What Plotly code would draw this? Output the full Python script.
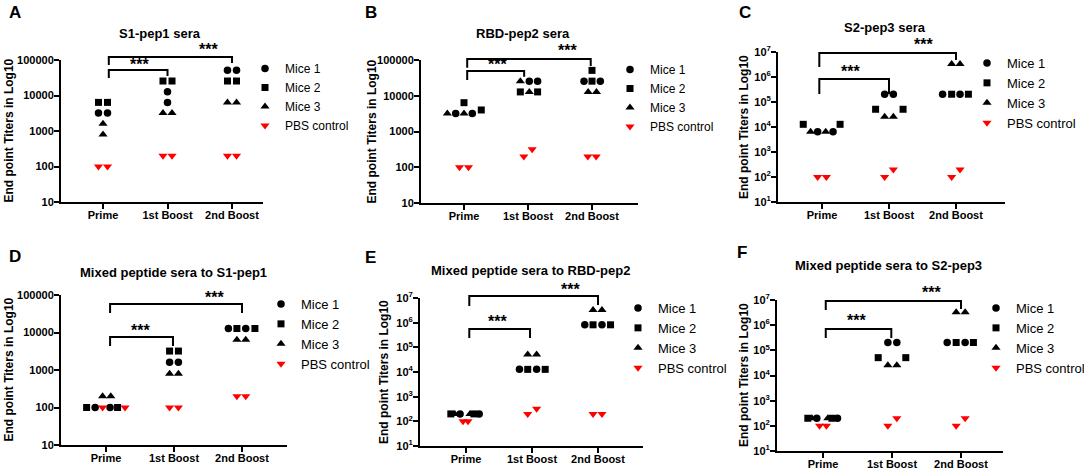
import plotly.graph_objects as go

W, H = 1084, 470
FONT = "Liberation Sans, Arial, sans-serif"

CATEGORIES = ["Prime", "1st Boost", "2nd Boost"]
SERIES_NAMES = ["Mice 1", "Mice 2", "Mice 3", "PBS control"]

# ---------------- data (titers per group, two readings per group) ----------------
A_mice1 = [[3200, 3200], [12800, 6400], [51200, 51200]]
A_mice2 = [[6400, 6400], [25600, 25600], [25600, 25600]]
A_mice3 = [[1600, 800], [3200, 3200], [6400, 6400]]
A_pbs = [[100, 100], [200, 200], [200, 200]]

B_mice1 = [[3200, 3200], [25600, 25600], [25600, 25600]]
B_mice2 = [[6400, 4000], [12800, 12800], [51200, 25600]]
B_mice3 = [[3200, 3200], [25600, 12800], [12800, 12800]]
B_pbs = [[100, 100], [200, 320], [200, 200]]

C_mice1 = [[6400, 6400], [204800, 204800], [204800, 204800]]
C_mice2 = [[12800, 12800], [51200, 51200], [204800, 204800]]
C_mice3 = [[6400, 6400], [25600, 25600], [3276800, 3276800]]
C_pbs = [[100, 100], [100, 200], [100, 200]]

D_mice1 = [[100, 100], [1600, 1600], [12800, 12800]]
D_mice2 = [[100, 100], [3200, 3200], [12800, 12800]]
D_mice3 = [[200, 200], [800, 800], [6400, 6400]]
D_pbs = [[100, 100], [100, 100], [200, 200]]

E_mice1 = [[200, 200], [12800, 12800], [819200, 819200]]
E_mice2 = [[200, 200], [12800, 12800], [819200, 819200]]
E_mice3 = [[200, 200], [51200, 51200], [3276800, 3276800]]
E_pbs = [[100, 100], [200, 320], [200, 200]]

F_mice1 = [[200, 200], [204800, 204800], [204800, 204800]]
F_mice2 = [[200, 200], [51200, 51200], [204800, 204800]]
F_mice3 = [[200, 200], [25600, 25600], [3276800, 3276800]]
F_pbs = [[100, 100], [100, 200], [100, 200]]

# ---------------- horizontal spread of the dots (layout, category units) ----------------
A_dx = [[[-.07, .07], [0, 0], [-.07, .07]],
        [[-.07, .07], [-.07, .07], [-.07, .07]],
        [[0, 0], [-.07, .07], [-.07, .07]],
        [[-.07, .07], [-.07, .07], [-.07, .07]]]
B_dx = [[[-.13, .13], [.02, .15], [-.125, .13]],
        [[0, .27], [-.12, .15], [0, 0]],
        [[-.26, 0], [-.12, .02], [-.06, .07]],
        [[-.07, .07], [-.065, .065], [-.065, .065]]]
C_dx = [[[-.065, .165], [-.065, .065], [-.2, .06]],
        [[-.28, .27], [-.2, .21], [-.065, .185]],
        [[-.17, .055], [-.065, .065], [-.065, .06]],
        [[-.065, .065], [-.065, .065], [-.065, .06]]]
D_dx = [[[-.16, .06], [-.065, .065], [-.2, .055]],
        [[-.285, .17], [-.065, .065], [-.075, .19]],
        [[-.05, .07], [-.065, .065], [-.075, .055]],
        [[-.05, .28], [-.065, .065], [-.075, .055]]]
E_dx = [[[-.09, .2], [-.19, .07], [-.2, .06]],
        [[-.23, .12], [-.065, .2], [-.075, .19]],
        [[-.17, .06], [-.065, .07], [-.075, .06]],
        [[-.045, .03], [-.065, .07], [-.075, .06]]]
F_dx = [[[-.09, .21], [-.06, .07], [-.2, .06]],
        [[-.22, .13], [-.2, .2], [-.07, .18]],
        [[-.16, .07], [-.06, .07], [-.07, .06]],
        [[-.05, .05], [-.06, .07], [-.07, .06]]]

SYMBOLS = ["circle", "square", "triangle-up", "triangle-down"]
COLORS = ["black", "black", "black", "#ff0000"]
SIZES = [7.5, 7, 8, 8]

POW_TICKS = [10 ** k for k in range(1, 8)]
POW_TEXT = ["10<sup>%d</sup>" % k for k in range(1, 8)]
DEC_TICKS = [10, 100, 1000, 10000, 100000]
DEC_TEXT = ["10", "100", "1000", "10000", "100000"]

# panel geometry in pixels: axis left/right/top/bottom, first tick x, tick spacing
panels = [
    dict(letter="A", title="S1-pep1 sera", data=[A_mice1, A_mice2, A_mice3, A_pbs], dx=A_dx,
         box=(61, 263, 60, 202), t0=103, s=64.5, yr=(1, 5), pow=False,
         title_xy=(160, 33), letter_xy=(7, 12), ytitle_x=8.5, leg=(267, 69), legfont=12,
         brackets=[(0.09, 1.0, 4.72, 4.49, 4.55, 0.56, 4.83),
                   (0.09, 2.0, 5.085, 4.86, 4.915, 1.64, 5.25)]),
    dict(letter="B", title="RBD-pep2 sera", data=[B_mice1, B_mice2, B_mice3, B_pbs], dx=B_dx,
         box=(421, 638, 60, 203), t0=464, s=64, yr=(1, 5), pow=False,
         title_xy=(523, 33), letter_xy=(363, 12), ytitle_x=372, leg=(632, 70), legfont=12,
         brackets=[(0.05, 0.94, 4.69, 4.44, 4.53, 0.52, 4.83),
                   (0.05, 1.98, 5.03, 4.78, 4.83, 1.61, 5.2)]),
    dict(letter="C", title="S2-pep3 sera", data=[C_mice1, C_mice2, C_mice3, C_pbs], dx=C_dx,
         box=(778, 1005, 52, 202), t0=822, s=67, yr=(1, 7), pow=True,
         title_xy=(885, 27), letter_xy=(737, 12), ytitle_x=744, leg=(989, 63), legfont=13,
         brackets=[(-0.04, 1.0, 5.92, 5.32, 5.32, 0.43, 6.12),
                   (-0.04, 2.0, 6.96, 6.4, 6.68, 1.52, 7.2)]),
    dict(letter="D", title="Mixed peptide sera to S1-pep1", data=[D_mice1, D_mice2, D_mice3, D_pbs], dx=D_dx,
         box=(61, 287, 295, 445), t0=106, s=68, yr=(1, 5), pow=False,
         title_xy=(173, 272), letter_xy=(7, 256), ytitle_x=8.5, leg=(283, 304), legfont=13,
         brackets=[(0.06, 0.985, 3.88, 3.64, 3.64, 0.5, 4.01),
                   (0.06, 2.0, 4.76, 4.52, 4.52, 1.59, 4.87)]),
    dict(letter="E", title="Mixed peptide sera to RBD-pep2", data=[E_mice1, E_mice2, E_mice3, E_pbs], dx=E_dx,
         box=(420, 643, 298, 446), t0=466, s=66, yr=(1, 7), pow=True,
         title_xy=(530, 270), letter_xy=(363, 257), ytitle_x=384, leg=(640, 308), legfont=13,
         brackets=[(0.05, 0.97, 5.74, 5.38, 5.38, 0.48, 5.95),
                   (0.05, 2.0, 7.08, 6.68, 6.72, 1.58, 7.28)]),
    dict(letter="F", title="Mixed peptide sera to S2-pep3", data=[F_mice1, F_mice2, F_mice3, F_pbs], dx=F_dx,
         box=(777, 1003, 300, 451), t0=823, s=69, yr=(1, 7), pow=True,
         title_xy=(888, 265), letter_xy=(735, 252), ytitle_x=743.5, leg=(998, 308), legfont=13,
         brackets=[(0.04, 0.99, 5.85, 5.49, 5.49, 0.49, 6.09),
                   (0.04, 2.0, 6.96, 6.6, 6.64, 1.57, 7.2)]),
]

fig = go.Figure()
shapes, annotations = [], []
layout = dict(width=W, height=H, margin=dict(l=0, r=0, t=0, b=0, autoexpand=False),
              paper_bgcolor="white", plot_bgcolor="white",
              font=dict(family=FONT, color="black"))

for i, p in enumerate(panels, start=1):
    sfx = "" if i == 1 else str(i)
    xref, yref = "x" + sfx, "y" + sfx
    legname = "legend" + sfx
    left, right, top, bottom = p["box"]
    xr = [(left - p["t0"]) / p["s"], (right - p["t0"]) / p["s"]]
    y0, y1 = p["yr"]

    for k in range(4):
        xs, ys = [], []
        for c in range(3):
            for v, d in zip(p["data"][k][c], p["dx"][k][c]):
                xs.append(c + d)
                ys.append(v)
        fig.add_trace(go.Scatter(
            x=xs, y=ys, mode="markers", name=SERIES_NAMES[k],
            xaxis=xref, yaxis=yref, legend=legname, cliponaxis=False,
            marker=dict(symbol=SYMBOLS[k], color=COLORS[k], size=SIZES[k], line=dict(width=0)),
            hoverinfo="x+y"))

    layout["xaxis" + sfx] = dict(
        domain=[left / W, right / W], range=xr, anchor=yref, automargin=False,
        tickvals=[0, 1, 2], ticktext=CATEGORIES, ticks="outside", ticklen=5, tickwidth=2,
        ticklabelstandoff=-3,
        tickcolor="black", showline=True, linecolor="black", linewidth=2,
        showgrid=False, zeroline=False,
        tickfont=dict(family=FONT, size=11, color="black", weight="bold"))
    layout["yaxis" + sfx] = dict(
        domain=[1 - bottom / H, 1 - top / H], type="log", range=[y0, y1], anchor=xref,
        automargin=False, ticklabelstandoff=-2,
        tickvals=POW_TICKS if p["pow"] else DEC_TICKS,
        ticktext=POW_TEXT if p["pow"] else DEC_TEXT,
        ticks="outside", ticklen=5, tickwidth=2, tickcolor="black",
        showline=True, linecolor="black", linewidth=2, showgrid=False, zeroline=False,
        tickfont=dict(family=FONT, size=11, color="black", weight="bold"))

    lx, ly = p["leg"]
    layout[legname] = dict(
        x=(lx - 22) / W, y=1 - (ly - 15) / H, xanchor="left", yanchor="top",
        bgcolor="rgba(0,0,0,0)", borderwidth=0,
        font=dict(family=FONT, size=p["legfont"], color="black"), itemclick=False)

    ydom = yref + " domain"
    lift = 2.0 / (bottom - top)   # raise the asterisks slightly above their bracket

    def dom(v):
        return (v - y0) / (y1 - y0)
    for (bx0, bx1, ytop, yl, yrr, sx, sy) in p["brackets"]:
        path = "M {a},{b} L {a},{c} L {d},{c} L {d},{e}".format(
            a=bx0, b=dom(yl), c=dom(ytop), d=bx1, e=dom(yrr))
        shapes.append(dict(type="path", path=path, xref=xref, yref=ydom,
                           line=dict(color="black", width=2)))
        annotations.append(dict(x=sx, y=dom(sy) + lift, xref=xref, yref=ydom, text="***",
                                showarrow=False, xanchor="center", yanchor="middle",
                                font=dict(family=FONT, size=16, color="black", weight="bold")))

    tx, ty = p["title_xy"]
    annotations.append(dict(x=tx / W, y=1 - ty / H, xref="paper", yref="paper", text=p["title"],
                            showarrow=False, xanchor="center", yanchor="middle",
                            font=dict(family=FONT, size=13, color="black", weight="bold")))
    lx2, ly2 = p["letter_xy"]
    annotations.append(dict(x=lx2 / W, y=1 - ly2 / H, xref="paper", yref="paper", text=p["letter"],
                            showarrow=False, xanchor="left", yanchor="middle",
                            font=dict(family=FONT, size=17, color="black", weight="bold")))
    annotations.append(dict(x=p["ytitle_x"] / W, y=1 - (top + bottom) / 2 / H, xref="paper", yref="paper",
                            text="End point Titers in Log10", textangle=-90, showarrow=False,
                            xanchor="center", yanchor="middle",
                            font=dict(family=FONT, size=12, color="black", weight="bold")))

layout["shapes"] = shapes
layout["annotations"] = annotations
fig.update_layout(**layout)
fig.write_html("out.html", config={"displayModeBar": False})

# remove the browser's default page margin so the figure sits at the window's top-left corner
with open("out.html", "r", encoding="utf-8") as fh:
    html = fh.read()
html = html.replace("<head>", "<head><style>html,body{margin:0;padding:0;overflow:hidden;}</style>", 1)
with open("out.html", "w", encoding="utf-8") as fh:
    fh.write(html)
